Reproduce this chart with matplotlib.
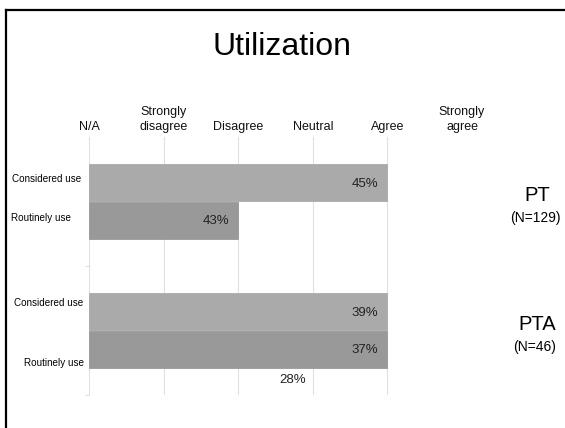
import numpy as np
import matplotlib.pyplot as plt
from matplotlib.lines import Line2D
from matplotlib.transforms import blended_transform_factory

plt.rcParams['font.family'] = ['Liberation Sans', 'DejaVu Sans']

# --- Data ---
scale_labels = ['N/A', 'Strongly\ndisagree', 'Disagree', 'Neutral', 'Agree', 'Strongly\nagree']
groups = ['PT', 'PTA']
group_n = ['(N=129)', '(N=46)']
considered = [4, 4]          # position on the scale (Agree)
routinely = [2, 4]           # Disagree / Agree
considered_pct = ['45%', '39%']
routinely_pct = ['43%', '37%']
extra_pct = '28%'

light = '#aaaaaa'
dark = '#999999'

fig = plt.figure(figsize=(5.65, 4.28), dpi=100)
ax = fig.add_axes([89 / 565, 1 - 395 / 428, 373 / 565, 258 / 428])

y = np.arange(len(groups))
h = 0.287
ax.barh(y - h / 2, considered, height=h, color=light, edgecolor=light, lw=0.6, zorder=2)
ax.barh(y + h / 2, routinely, height=h, color=dark, edgecolor=dark, lw=0.6, zorder=2)

# value labels inside bar ends
for i in range(len(groups)):
    ax.text(considered[i] - 0.12, y[i] - h / 2 + 0.01, considered_pct[i],
            ha='right', va='center', fontsize=9.5, color='#222222', zorder=3)
    ax.text(routinely[i] - 0.12, y[i] + h / 2 + 0.01, routinely_pct[i],
            ha='right', va='center', fontsize=9.5, color='#222222', zorder=3)
ax.text(2.73, 1.38, extra_pct, ha='center', va='center', fontsize=9.5, color='#222222')

# row labels left of the axis
tr = blended_transform_factory(fig.transFigure, ax.transData)
row_labels = [('Considered use', -0.174, 81), ('Routinely use', 0.128, 71),
              ('Considered use', 0.787, 83), ('Routinely use', 1.252, 84)]
for txt, yy, xr in row_labels:
    ax.text(xr / 565, yy, txt, transform=tr, ha='right', va='center', fontsize=7.1)

# group labels on the right
for i, (g, n) in enumerate(zip(groups, group_n)):
    ax.text(537 / 565, y[i] - 0.05, g, transform=tr, ha='center', va='center', fontsize=14.5)
    ax.text(535 / 565, y[i] + 0.13, n, transform=tr, ha='center', va='center', fontsize=10)

ax.set_xlim(0, 5)
ax.set_ylim(1.5, -0.5)
ax.xaxis.tick_top()
ax.set_xticks(range(len(scale_labels)))
ax.set_xticklabels(scale_labels, fontsize=9, linespacing=1.3, color='#111111')
ax.tick_params(axis='x', length=0, pad=3)
ax.set_yticks([0.5, 1.5])
ax.set_yticklabels([])
ax.tick_params(axis='y', length=3, color='#dddddd')
ax.grid(axis='x', color='#e0e0e0', linewidth=0.8, zorder=0)
ax.set_axisbelow(True)
for s in ax.spines.values():
    s.set_visible(False)

fig.text(282 / 565, 1 - 47 / 428, 'Utilization', ha='center', va='center', fontsize=23)

# slide border (top and left)
fig.add_artist(Line2D([6 / 565, 1], [1 - 10 / 428, 1 - 10 / 428], color='black', lw=1.6,
                      transform=fig.transFigure))
fig.add_artist(Line2D([6 / 565, 6 / 565], [0, 1 - 10 / 428], color='black', lw=1.6,
                      transform=fig.transFigure))

fig.savefig('out.png', dpi=100)
